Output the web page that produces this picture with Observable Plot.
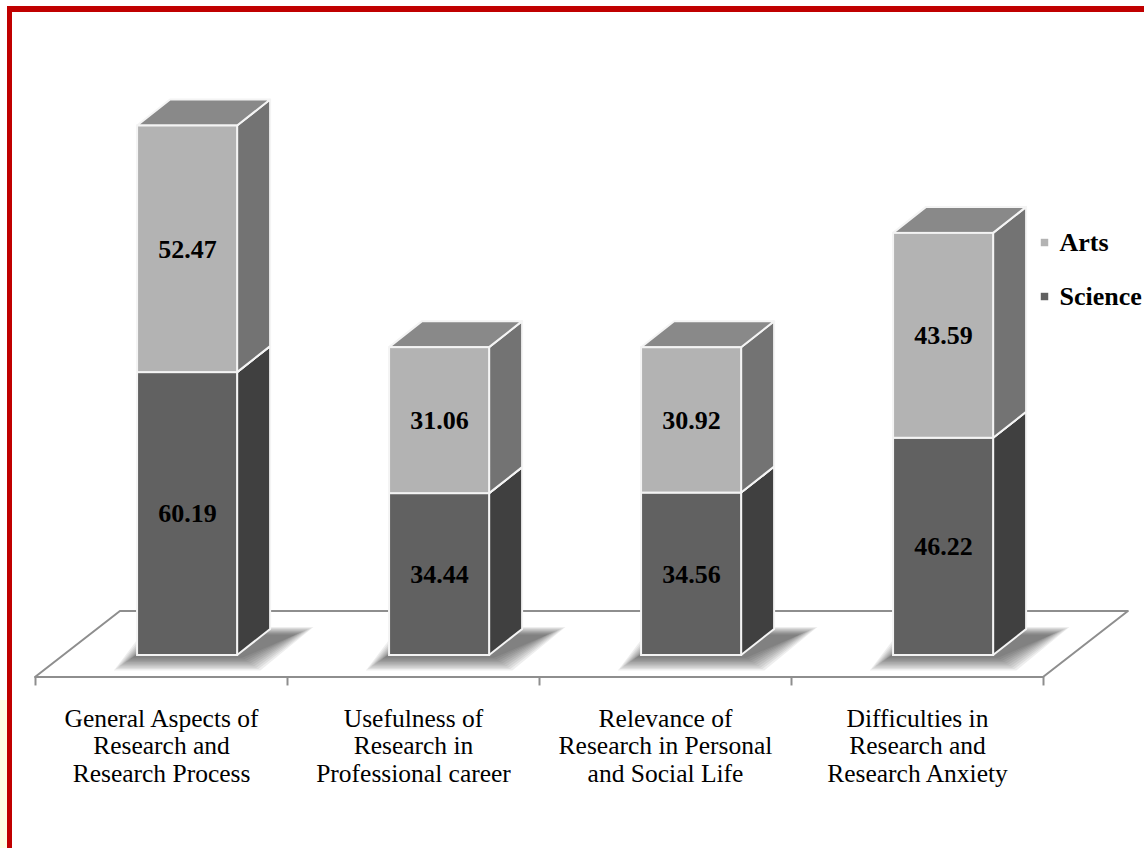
<!DOCTYPE html>
<html>
<head>
<meta charset="utf-8">
<script src="https://cdn.jsdelivr.net/npm/d3@7"></script>
<script src="https://cdn.jsdelivr.net/npm/@observablehq/plot@0.6"></script>
<style>
  html, body { margin: 0; padding: 0; background: #fff; width: 1144px; height: 848px; overflow: hidden; }
  #wrap { position: relative; width: 1144px; height: 848px; }
  #chart { position: absolute; left: 0; top: 0; }
  #frame { position: absolute; left: 7px; top: 6px; width: 1200px; height: 900px;
           border-top: 6px solid #c00000; border-left: 5px solid #c00000; pointer-events: none; }
  #strip { position: absolute; left: 0; top: 700px; width: 7px; height: 148px; background: #fffee4; }
</style>
</head>
<body>
<div id="wrap">
  <div id="chart"></div>
  <div id="strip"></div>
  <div id="frame"></div>
</div>
<script>
// ---- data ----
const categories = [
  "General Aspects of\nResearch and\nResearch Process",
  "Usefulness of\nResearch in\nProfessional career",
  "Relevance of\nResearch in Personal\nand Social Life",
  "Difficulties in\nResearch and\nResearch Anxiety"
];
const series = ["Science", "Arts"];
const science = [60.19, 34.44, 34.56, 46.22];
const arts = [52.47, 31.06, 30.92, 43.59];
const legendOrder = ["Arts", "Science"];

// ---- styling / geometry (in scale units) ----
const colors = {
  Science: {front: "#616161", side: "#404040", top: "#555555"},
  Arts: {front: "#b3b3b3", side: "#737373", top: "#898989"}
};
const BAR_L = 0.405, BAR_R = 0.802;     // bar front face within category band
const DDX = 0.131, DDY = 5.53;          // bar depth offset
const FLOOR_FRONT = -4.68, FLOOR_BACK = 9.36, FLOOR_DX = 0.337;
const edge = "#f4f4f4";
const font = "'Liberation Serif', 'Times New Roman', serif";

const valuesOf = {Science: science, Arts: arts};
const segs = [];
categories.forEach((c, i) => {
  let base = 0;
  series.forEach(s => {
    const v = valuesOf[s][i];
    segs.push({i, s, v, y1: base, y2: base + v, x1: i + BAR_L, x2: i + BAR_R});
    base += v;
  });
});

const sidePts = segs.flatMap((d, k) => [
  {id: k, s: d.s, x: d.x2, yb: d.y1, yt: d.y2},
  {id: k, s: d.s, x: d.x2 + DDX, yb: d.y1 + DDY, yt: d.y2 + DDY}
]);
const topPts = segs.flatMap((d, k) => [
  {id: k, s: d.s, y: d.y2, xl: d.x1, xr: d.x2},
  {id: k, s: d.s, y: d.y2 + DDY, xl: d.x1 + DDX, xr: d.x2 + DDX}
]);
// soft shadow under each bar, built from stacked translucent layers
const LAYERS = 10;
const shadowPts = categories.flatMap((c, i) => d3.range(LAYERS).flatMap(k => {
  const e = (LAYERS - 1 - k);           // outer layers first
  const ex = 0.008 * e, ey = 0.3 * e;
  const id = i * LAYERS + k;
  return [
    {id, y: -0.6 - ey, xl: i + BAR_L - 0.02 - ex, xr: i + BAR_R + 0.02 + ex},
    {id, y: DDY - 1.2 + ey * 0.6, xl: i + BAR_L + DDX - 0.02 - ex, xr: i + BAR_R + DDX + 0.1 + ex}
  ];
}));
const floorPts = [
  {y: FLOOR_FRONT, xl: 0, xr: categories.length},
  {y: FLOOR_BACK, xl: FLOOR_DX, xr: categories.length + FLOOR_DX}
];

const marks = [
  Plot.areaX(floorPts, {y: "y", x1: "xl", x2: "xr", fill: "#fff", stroke: "#8e8e8e", strokeWidth: 2}),
  Plot.ruleX(d3.range(categories.length + 1), {x: d => d, y1: FLOOR_FRONT, y2: FLOOR_FRONT - 1.8, stroke: "#8e8e8e", strokeWidth: 2}),
  Plot.areaX(shadowPts, {y: "y", x1: "xl", x2: "xr", z: "id", fill: "#202020", fillOpacity: 0.075})
];
series.forEach(s => {
  const sg = segs.filter(d => d.s === s);
  marks.push(
    Plot.areaY(sidePts.filter(d => d.s === s), {x: "x", y1: "yb", y2: "yt", z: "id", fill: colors[s].side, stroke: edge, strokeWidth: 2, strokeLinejoin: "round"}),
    Plot.areaX(topPts.filter(d => d.s === s), {y: "y", x1: "xl", x2: "xr", z: "id", fill: colors[s].top, stroke: edge, strokeWidth: 2, strokeLinejoin: "round"}),
    Plot.rect(sg, {x1: "x1", x2: "x2", y1: "y1", y2: "y2", fill: colors[s].front, stroke: edge, strokeWidth: 2})
  );
});
marks.push(
  Plot.text(segs, {x: d => (d.x1 + d.x2) / 2, y: d => (d.y1 + d.y2) / 2, text: d => d.v.toFixed(2),
    fontSize: 26, fontWeight: "bold", fill: "#000", fontFamily: font}),
  Plot.text(categories, {x: (d, i) => i + 0.5, y: () => -19.15, text: d => d, fontSize: 25.5, lineHeight: 1.09,
    fill: "#000", fontFamily: font}),
  Plot.dot(legendOrder, {x: () => 4.004, y: d => d === "Arts" ? 87.87 : 76.38, symbol: "square", r: 4.2,
    fill: d => colors[d].front, stroke: null}),
  Plot.text(legendOrder, {x: () => 4.004, y: d => d === "Arts" ? 87.87 : 76.38, text: d => d, dx: 15,
    textAnchor: "start", fontSize: 26, fontWeight: "bold", fill: "#000", fontFamily: font})
);

const chart = Plot.plot({
  width: 1144,
  height: 848,
  margin: 0,
  style: {background: "transparent", fontFamily: font, overflow: "visible"},
  x: {domain: [0, categories.length], range: [35, 1043], axis: null},
  y: {domain: [0, 100], range: [655, 185], axis: null},
  color: {type: "identity"},
  marks
});

document.getElementById("chart").appendChild(chart);
</script>
</body>
</html>
